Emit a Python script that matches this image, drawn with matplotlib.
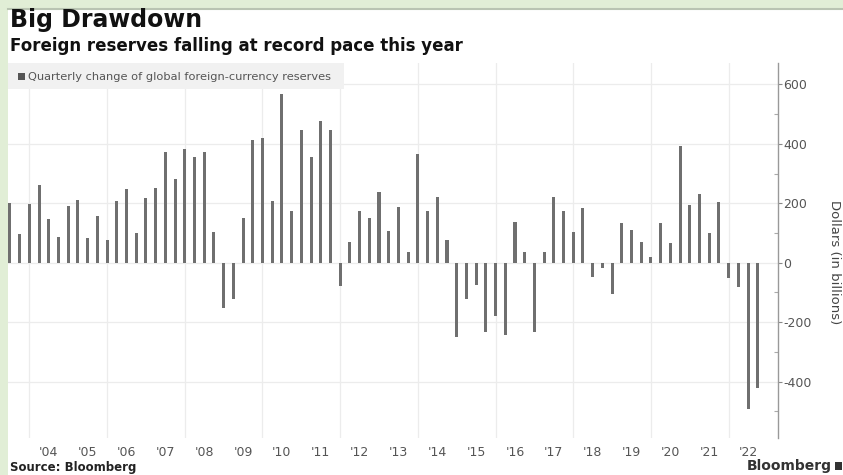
import matplotlib
matplotlib.use("Agg")
import matplotlib.pyplot as plt
import matplotlib.patches as patches
import pandas as pd

# Quarterly change of global FX reserves, billions of dollars (quarter-end)
first_quarter = "2003Q2"
reserve_change = [
    200, 95, 197,
    261, 146, 87, 190,
    211, 82, 157, 76,
    208, 247, 99, 219,
    253, 373, 282, 382,
    356, 373, 103, -153,
    -123, 152, 412, 418,
    208, 569, 174, 448,
    356, 476, 446, -78,
    71, 175, 149, 238,
    108, 186, 37, 365,
    174, 222, 76, -249,
    -122, -75, -232, -181,
    -243, 138, 37, -232,
    37, 222, 174, 103,
    183, -49, -19, -106,
    134, 110, 71, 20,
    132, 67, 392, 194,
    230, 99, 204, -50,
    -81, -493, -422,
]
year_labels = list(range(2004, 2023))
y_ticks = [-400, -200, 0, 200, 400, 600]

quarters = pd.period_range(first_quarter, periods=len(reserve_change), freq="Q")
x_pos = [q.year + q.quarter / 4 for q in quarters]

W, H = 843, 475
fig = plt.figure(figsize=(W / 100, H / 100), dpi=100)
fig.patch.set_facecolor("white")

# green frame around the panel
fig.patches.append(patches.Rectangle((0, 1 - 8 / H), 1, 8 / H, transform=fig.transFigure,
                                     facecolor="#e1eed6", edgecolor="none", zorder=0))
fig.patches.append(patches.Rectangle((0, 0), 8 / W, 1, transform=fig.transFigure,
                                     facecolor="#e1eed6", edgecolor="none", zorder=0))
fig.lines.append(plt.Line2D([8 / W, 1], [1 - 8.5 / H, 1 - 8.5 / H], transform=fig.transFigure,
                            color="#b9c4b2", lw=1.5))

ax = fig.add_axes([8 / W, 1 - 438 / H, (778 - 8) / W, (438 - 63) / H])
ax.set_facecolor("white")

ax.bar(x_pos, reserve_change, width=0.078, color="#6f6f6f", zorder=3)

ax.set_xlim(2003.45, 2023.27)
ax.set_ylim(-590, 672)

# vertical grid every two years, horizontal grid at major ticks
for yr in range(2004, 2023, 2):
    ax.axvline(yr, color="#ececec", lw=0.9, zorder=1)
for v in y_ticks:
    ax.axhline(v, color="#ececec", lw=0.9, zorder=1)

ax.set_xticks([y + 0.5 for y in year_labels])
ax.set_xticklabels([f"'{y % 100:02d}" for y in year_labels], fontsize=9, color="#555555")
ax.tick_params(axis="x", length=0, pad=6)

ax.yaxis.tick_right()
ax.set_yticks(y_ticks)
ax.set_yticklabels([str(v) for v in y_ticks], fontsize=9, color="#555555")
ax.set_yticks(range(-500, 600, 200), minor=True)
ax.tick_params(axis="y", which="major", direction="out", length=3, width=0.8,
               color="#888888", pad=1)
ax.tick_params(axis="y", which="minor", direction="in", length=3, width=0.8, color="#aaaaaa")

for side in ["top", "left", "bottom"]:
    ax.spines[side].set_visible(False)
ax.spines["right"].set_color("#999999")
ax.spines["right"].set_linewidth(1.0)

# legend strip
fig.patches.append(patches.Rectangle((8 / W, 1 - 89 / H), 336 / W, 26 / H,
                                     transform=fig.transFigure, facecolor="#f1f1f1",
                                     edgecolor="none", zorder=5))
fig.patches.append(patches.Rectangle((18 / W, 1 - 80 / H), 7 / W, 7 / H,
                                     transform=fig.transFigure, facecolor="#555555",
                                     edgecolor="none", zorder=6))
fig.text(28 / W, 1 - 77 / H, "Quarterly change of global foreign-currency reserves",
         fontsize=8.2, color="#555555", va="center", ha="left", zorder=7)

fig.text(10 / W, 1 - 20 / H, "Big Drawdown", fontsize=17, fontweight="bold",
         color="#111111", va="center", ha="left")
fig.text(10 / W, 1 - 46 / H, "Foreign reserves falling at record pace this year",
         fontsize=12, fontweight="bold", color="#111111", va="center", ha="left")

fig.text(835 / W, 1 - 262 / H, "Dollars (in billions)", fontsize=9.5, color="#444444",
         rotation=270, va="center", ha="center")

fig.text(10 / W, 1 - 467 / H, "Source: Bloomberg", fontsize=8.5, fontweight="bold",
         color="#222222", va="center", ha="left")
fig.text(832 / W, 1 - 466 / H, "Bloomberg", fontsize=10, fontweight="bold",
         color="#333333", va="center", ha="right")
fig.patches.append(patches.Rectangle((835 / W, 1 - 470 / H), 7 / W, 8 / H,
                                     transform=fig.transFigure, facecolor="#333333",
                                     edgecolor="none"))

fig.savefig("out.png", dpi=100)
